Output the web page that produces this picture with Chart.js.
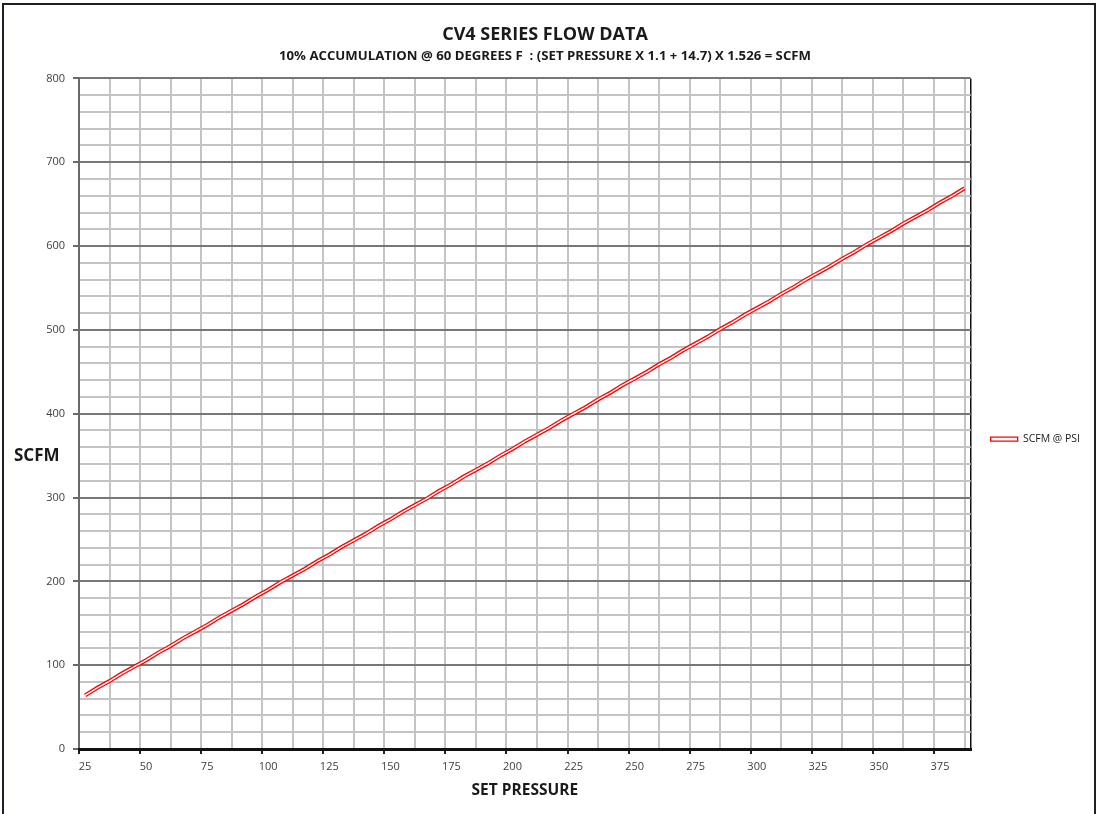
<!DOCTYPE html>
<html>
<head>
<meta charset="utf-8">
<script src="https://cdn.jsdelivr.net/npm/chart.js@4.4.1/dist/chart.umd.min.js"></script>
<style>
  html, body { margin: 0; padding: 0; background: #fff; }
  #wrap { position: relative; width: 1105px; height: 814px; overflow: hidden; }
  #frame {
    position: absolute; left: 2px; top: 3px; width: 1090px; height: 860px;
    border: 2px solid #1e1e26; pointer-events: none;
  }
</style>
</head>
<body>
<div id="wrap">
  <canvas id="flowChart" width="1105" height="814"></canvas>
  <div id="frame"></div>
</div>
<script>
// set pressure (psi) - every 5 psi
const setPressure = [
  25, 30, 35, 40, 45, 50, 55, 60, 65, 70, 75, 80, 85, 90, 95, 100,
  105, 110, 115, 120, 125, 130, 135, 140, 145, 150, 155, 160, 165, 170, 175, 180,
  185, 190, 195, 200, 205, 210, 215, 220, 225, 230, 235, 240, 245, 250, 255, 260,
  265, 270, 275, 280, 285, 290, 295, 300, 305, 310, 315, 320, 325, 330, 335, 340,
  345, 350, 355, 360, 365, 370, 375, 380, 385
];
// SCFM
const scfm = [
  64, 73, 81, 90, 98, 106, 115, 123, 132, 140, 148, 157, 165, 173, 182, 190,
  199, 207, 215, 224, 232, 241, 249, 257, 266, 274, 283, 291, 299, 308, 316, 325,
  333, 341, 350, 358, 367, 375, 383, 392, 400, 408, 417, 425, 434, 442, 450, 459,
  467, 476, 484, 492, 501, 509, 518, 526, 534, 543, 551, 560, 568, 576, 585, 593,
  602, 610, 618, 627, 635, 643, 652, 660, 669
];
const xTickLabels = ['25', '50', '75', '100', '125', '150', '175', '200', '225', '250', '275', '300', '325', '350', '375'];
const yTickLabels = ['0', '100', '200', '300', '400', '500', '600', '700', '800'];

const seriesName = 'SCFM @ PSI';
const FONT = "'Open Sans', 'Liberation Sans', sans-serif";

// excel style category boundaries: each 5 psi slot spans +-2.5
const xMin = setPressure[0] - 2.5;
const xMax = setPressure[setPressure.length - 1] + 2.5;

const points = setPressure.map((p, i) => ({ x: p, y: scfm[i] }));

// draws "SCFM" horizontally left of the plot
const yTitlePlugin = {
  id: 'yTitle',
  afterDraw(chart) {
    const { ctx, chartArea } = chart;
    ctx.save();
    ctx.font = "bold 17px " + FONT;
    ctx.fillStyle = '#1a1a1a';
    ctx.textAlign = 'left';
    ctx.textBaseline = 'middle';
    ctx.fillText('SCFM', 14, chartArea.top + (chartArea.bottom - chartArea.top) * 0.563);
    ctx.restore();
  }
};

const ctx = document.getElementById('flowChart').getContext('2d');
new Chart(ctx, {
  type: 'line',
  data: {
    datasets: [
      {
        label: seriesName,
        data: points,
        borderColor: '#ff0000',
        borderWidth: 4,
        pointRadius: 0,
        fill: false,
        tension: 0,
        order: 2
      },
      {
        // white core gives the double-line look
        label: 'inner',
        data: points,
        borderColor: '#ffffff',
        borderWidth: 1.4,
        pointRadius: 0,
        fill: false,
        tension: 0,
        order: 1
      }
    ]
  },
  options: {
    responsive: false,
    animation: false,
    layout: { padding: { top: 0, right: 15, bottom: 0, left: 0 } },
    plugins: {
      title: {
        display: true,
        text: 'CV4 SERIES FLOW DATA',
        color: '#1a1a1a',
        font: { family: FONT, size: 18, weight: 'bold' },
        padding: { top: 24, bottom: 3 }
      },
      subtitle: {
        display: true,
        text: '10% ACCUMULATION @ 60 DEGREES F  : (SET PRESSURE X 1.1 + 14.7) X 1.526 = SCFM',
        color: '#1a1a1a',
        font: { family: FONT, size: 13.2, weight: 'bold' },
        padding: { top: 0, bottom: 14 }
      },
      legend: {
        position: 'right',
        title: {
          // empty title just pushes the entry down a bit
          display: true,
          text: ' ',
          font: { family: FONT, size: 11 },
          padding: { top: 0, bottom: 51 }
        },
        labels: {
          color: '#1a1a1a',
          font: { family: FONT, size: 10.5 },
          boxWidth: 27,
          boxHeight: 4,
          padding: 20,
          generateLabels: chart => [{
            text: seriesName,
            fillStyle: '#ffffff',
            strokeStyle: '#ff0000',
            lineWidth: 1.4,
            datasetIndex: 0,
            fontColor: '#1a1a1a'
          }]
        }
      },
      tooltip: { enabled: false }
    },
    scales: {
      x: {
        type: 'linear',
        min: xMin,
        max: xMax,
        afterBuildTicks: scale => {
          const t = [];
          for (let v = xMin; v < xMax - 1; v += 12.5) t.push({ value: v });
          t.push({ value: xMax });
          scale.ticks = t;
        },
        afterFit: scale => { scale.height = 65; },
        border: { color: '#111111', width: 3, z: 1 },
        grid: {
          color: c => (c.tick && c.tick.value === xMax) ? '#111111' : '#c4c4c4',
          lineWidth: c => (c.tick && c.tick.value === xMax) ? 1.5 : 2,
          tickLength: 5,
          tickColor: c => (c.index % 2 === 0 && c.tick.value !== xMax) ? '#222222' : 'rgba(0,0,0,0)',
          tickWidth: 2
        },
        ticks: {
          autoSkip: false,
          maxRotation: 0,
          padding: 6,
          labelOffset: 6,
          color: '#404040',
          font: { family: FONT, size: 11 },
          callback: (value, index) => (index % 2 === 0 && xTickLabels[index / 2]) ? xTickLabels[index / 2] : ''
        },
        title: {
          display: true,
          text: 'SET PRESSURE',
          color: '#1a1a1a',
          font: { family: FONT, size: 15.5, weight: 'bold' },
          padding: { top: 0, bottom: 14 }
        }
      },
      y: {
        min: 0,
        max: 800,
        afterFit: scale => { scale.width = 79; },
        border: { color: '#6a6a6a', width: 2 },
        grid: {
          color: c => c.tick.value % 100 === 0 ? '#777777' : '#c4c4c4',
          lineWidth: 2,
          tickLength: 6,
          tickColor: c => c.tick.value % 100 === 0 ? '#6a6a6a' : 'rgba(0,0,0,0)'
        },
        ticks: {
          stepSize: 20,
          autoSkip: false,
          padding: 8,
          color: '#404040',
          font: { family: FONT, size: 11 },
          callback: value => value % 100 === 0 ? yTickLabels[value / 100] : ''
        }
      }
    }
  },
  plugins: [yTitlePlugin]
});
</script>
</body>
</html>
